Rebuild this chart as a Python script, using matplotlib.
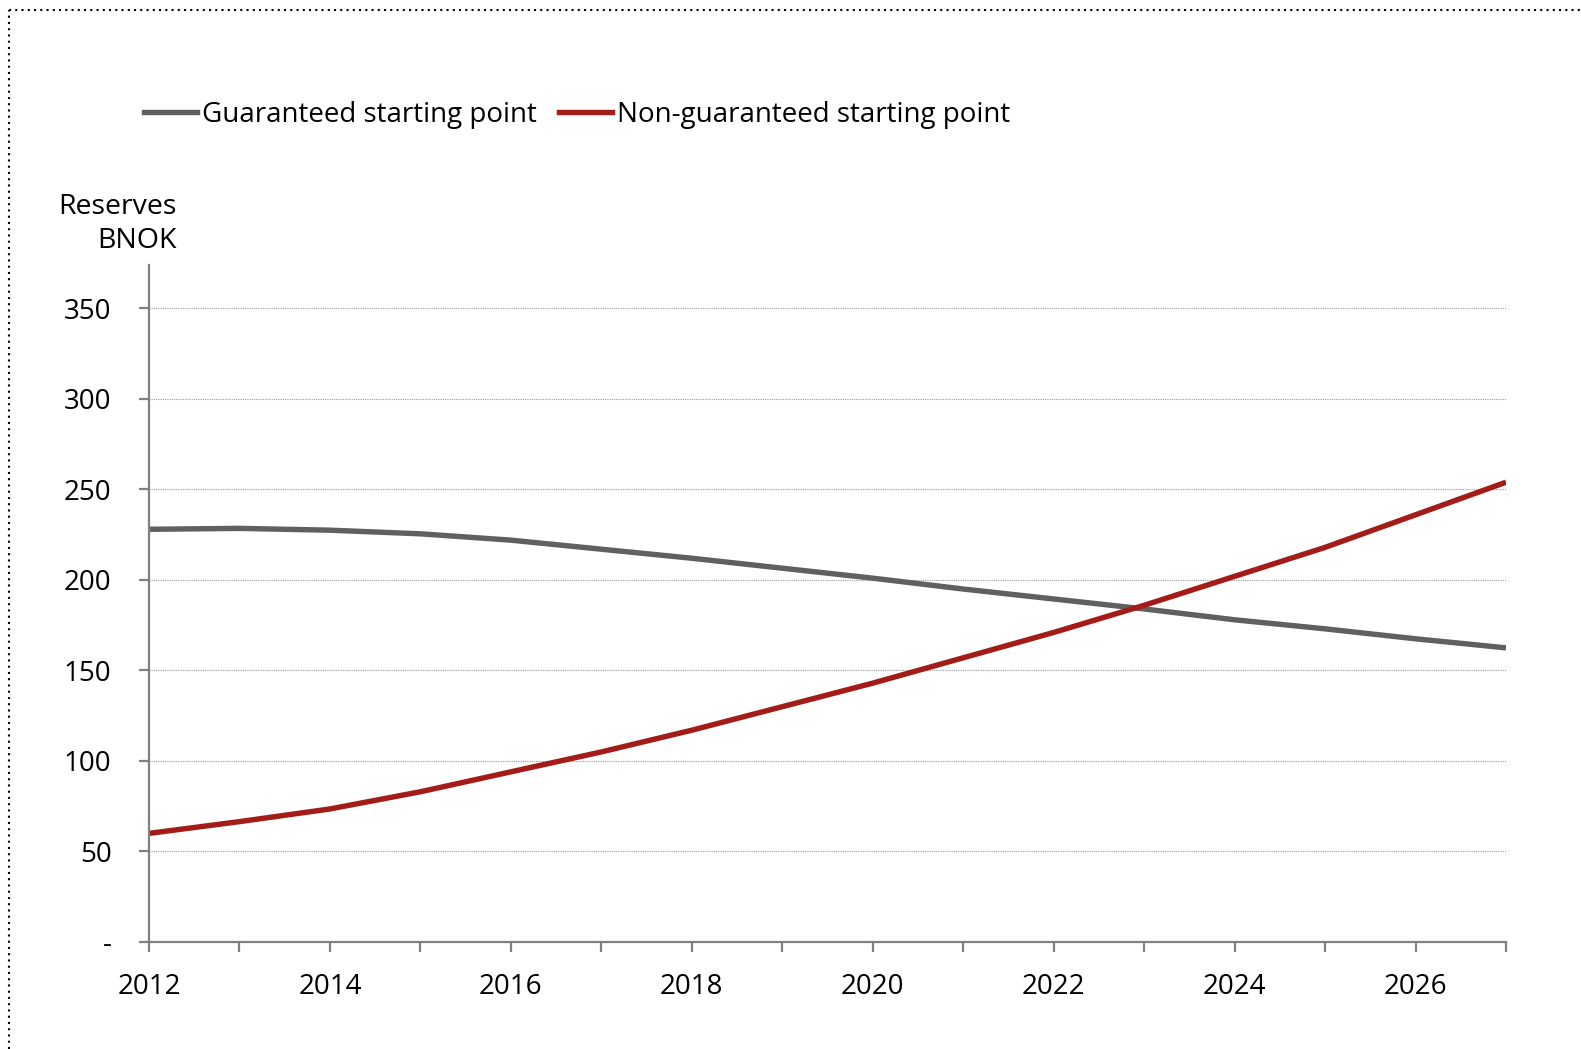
import matplotlib
matplotlib.use('Agg')
import matplotlib.pyplot as plt
from matplotlib.lines import Line2D

plt.rcParams['font.family'] = ['Open Sans', 'DejaVu Sans']

years = list(range(2012, 2028))
guaranteed = [228, 228.5, 227.5, 225.5, 222, 217, 212, 206.5, 201, 195,
              189.5, 184, 178, 173, 167.5, 162.5]
non_guaranteed = [60, 66.5, 73.5, 83, 94, 105, 117, 130, 143, 157,
                  171, 186, 202, 218, 236, 254]

GREY = '#606060'
RED = '#a31c17'
AXIS = '#808080'
W, H = 1581, 1049

fig = plt.figure(figsize=(W / 100, H / 100), dpi=100)
ax = fig.add_axes([149 / W, 1 - 942 / H, (1506 - 149) / W, (942 - 265) / H])

ax.plot(years, guaranteed, color=GREY, lw=3.9, solid_capstyle='butt')
ax.plot(years, non_guaranteed, color=RED, lw=3.9, solid_capstyle='butt')

ax.set_xlim(2012, 2027)
ax.set_ylim(0, 374)
ax.set_yticks(range(0, 351, 50))
ax.set_yticklabels(['-'] + [str(v) for v in range(50, 351, 50)])
ax.set_xticks(years, minor=True)
ax.set_xticks(range(2012, 2027, 2))
ax.grid(axis='y', color='#999999', ls=(0, (1, 1)), lw=0.8)
ax.set_axisbelow(True)

for s in ['top', 'right']:
    ax.spines[s].set_visible(False)
for s in ['left', 'bottom']:
    ax.spines[s].set_color(AXIS)
    ax.spines[s].set_linewidth(1.6)
ax.tick_params(axis='both', which='both', color=AXIS, width=1.6, length=7,
               labelsize=20, labelcolor='black')
ax.tick_params(axis='x', which='major', pad=15)
ax.tick_params(axis='y', pad=20)
ax.tick_params(axis='x', which='minor', labelbottom=False)

fig.text(177 / W, 1 - 224 / H, 'Reserves\nBNOK', ha='right', va='center',
         fontsize=20.5, linespacing=1.3)

handles = [Line2D([], [], color=GREY, lw=3.9),
           Line2D([], [], color=RED, lw=3.9)]
fig.legend(handles, ['Guaranteed starting point', 'Non-guaranteed starting point'],
           loc='center left', bbox_to_anchor=(144 / W, 1 - 115 / H),
           ncol=2, frameon=False, fontsize=20, handlelength=1.9, borderpad=0,
           borderaxespad=0, handletextpad=0.18, columnspacing=0.8)

# dotted frame along the left and top edges
fig.add_artist(Line2D([9 / W, 9 / W], [0, 1 - 10 / H], color='black',
                      lw=1.5, ls=(0, (1, 2)), transform=fig.transFigure))
fig.add_artist(Line2D([9 / W, 1], [1 - 10 / H, 1 - 10 / H], color='black',
                      lw=1.5, ls=(0, (1, 2)), transform=fig.transFigure))

fig.savefig('out.png', dpi=100)
